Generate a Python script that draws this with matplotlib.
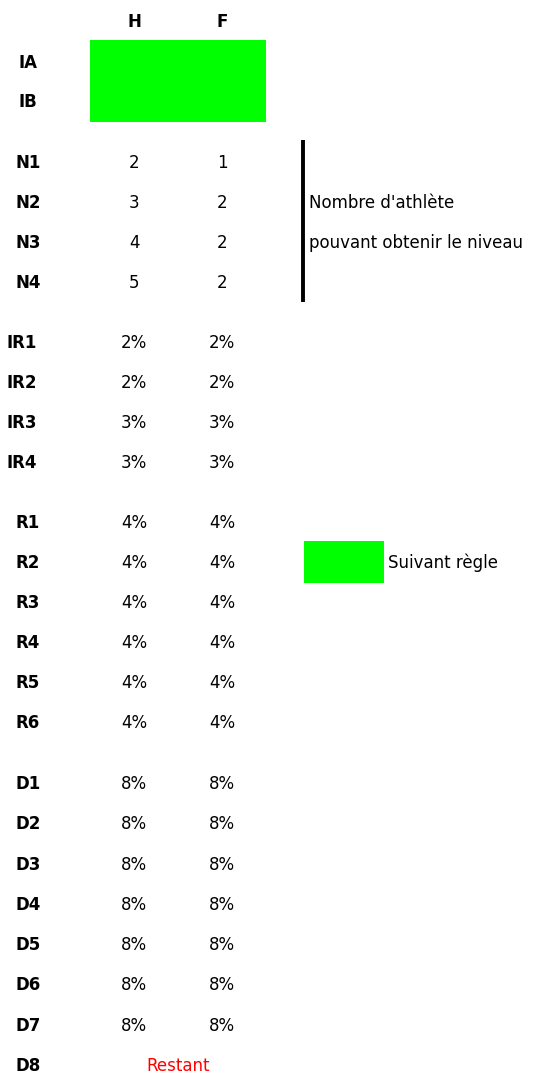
import matplotlib
matplotlib.use('Agg')
import matplotlib.pyplot as plt
from matplotlib.patches import Rectangle

# données du tableau
colonnes = ['H', 'F']
niveaux_i = ['IA', 'IB']
niveaux_n = ['N1', 'N2', 'N3', 'N4']
n_h = [2, 3, 4, 5]
n_f = [1, 2, 2, 2]
niveaux_ir = ['IR1', 'IR2', 'IR3', 'IR4']
ir_h = [2, 2, 3, 3]
ir_f = [2, 2, 3, 3]
niveaux_r = ['R1', 'R2', 'R3', 'R4', 'R5', 'R6']
r_h = [4, 4, 4, 4, 4, 4]
r_f = [4, 4, 4, 4, 4, 4]
niveaux_d = ['D1', 'D2', 'D3', 'D4', 'D5', 'D6', 'D7', 'D8']
d_h = [8, 8, 8, 8, 8, 8, 8, None]
d_f = [8, 8, 8, 8, 8, 8, 8, None]
note_n = ["Nombre d'athlète", "pouvant obtenir le niveau"]
legende = 'Suivant règle'
restant = 'Restant'

VERT = '#00ff00'
plt.rcParams['font.family'] = ['DejaVu Sans']

fig = plt.figure(figsize=(5.6, 10.81), dpi=100)
ax = fig.add_axes([0, 0, 1, 1])
ax.set_xlim(0, 560)
ax.set_ylim(1081, 0)
ax.axis('off')

x_lab, x_h, x_f = 28, 134, 222
fs = 12


def label(y, txt):
    x = 22 if txt.startswith('IR') else x_lab
    ax.text(x, y, txt, ha='center', va='center', fontsize=fs, fontweight='bold')


# en-tête
for x, c in zip([x_h, x_f], colonnes):
    ax.text(x, 22, c, ha='center', va='center', fontsize=fs, fontweight='bold')

# IA / IB
for y, t in zip([63, 102], niveaux_i):
    label(y, t)
ax.add_patch(Rectangle((90, 40), 176, 82, color=VERT, lw=0))

# N
ys = [163, 203, 243, 283]
for y, t, h, f in zip(ys, niveaux_n, n_h, n_f):
    label(y, t)
    ax.text(x_h, y, str(h), ha='center', va='center', fontsize=fs)
    ax.text(x_f, y, str(f), ha='center', va='center', fontsize=fs)
ax.plot([303, 303], [140, 302], color='black', lw=2.8, solid_capstyle='butt')
ax.text(309, 203, note_n[0], ha='left', va='center', fontsize=fs)
ax.text(309, 243, note_n[1], ha='left', va='center', fontsize=fs)


def bloc(y0, noms, vh, vf, pas=40.3):
    for i, (t, h, f) in enumerate(zip(noms, vh, vf)):
        y = y0 + i * pas
        label(y, t)
        if h is None:
            ax.text((x_h + x_f) / 2, y, restant, ha='center', va='center',
                    fontsize=fs, color='red')
        else:
            ax.text(x_h, y, f'{h}%', ha='center', va='center', fontsize=fs)
            ax.text(x_f, y, f'{f}%', ha='center', va='center', fontsize=fs)


bloc(343, niveaux_ir, ir_h, ir_f, 40)
bloc(523, niveaux_r, r_h, r_f, 40)
bloc(784, niveaux_d, d_h, d_f, 40.3)

# légende
ax.add_patch(Rectangle((304, 541), 80, 42, color=VERT, lw=0))
ax.text(388, 563, legende, ha='left', va='center', fontsize=fs)

fig.savefig('out.png', dpi=100, facecolor='white')
